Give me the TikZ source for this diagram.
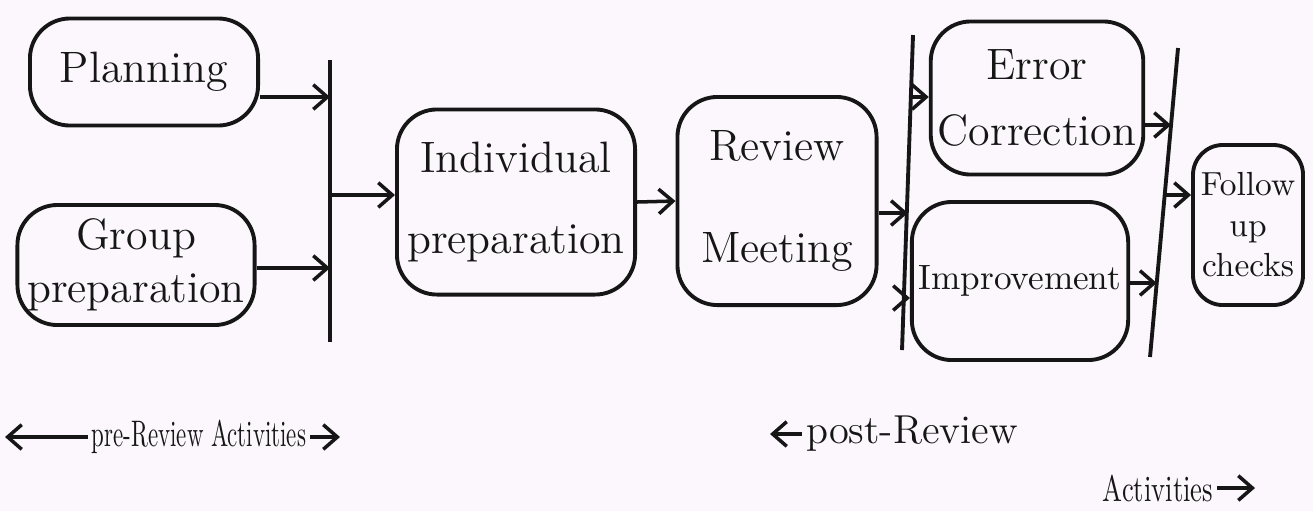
\documentclass[tikz,border=0pt]{standalone}
\usetikzlibrary{arrows.meta}
\definecolor{paper}{RGB}{251,247,252}
\definecolor{ink}{RGB}{22,22,22}
\newcommand\hsq[2]{\scalebox{#1}[1]{#2}}
\begin{document}
\begin{tikzpicture}[x=0.01cm,y=-0.01cm,
  box/.style={draw=ink, line width=1.1pt, rounded corners=0.4cm, align=center,
              inner sep=2pt, text=ink, font=\fontsize{12.5}{15}\selectfont},
  flow/.style={draw=ink, line width=1pt, -{Straight Barb[length=4pt,width=7pt]}},
  bar/.style={draw=ink, line width=1.1pt},
  note/.style={text=ink, inner sep=1pt, font=\fontsize{10.5}{13}\selectfont}]
\fill[paper] (0,0) rectangle (1313,511);
\useasboundingbox (0,0) rectangle (1313,511);

% activity boxes
\node[box, minimum width=2.28cm, minimum height=1.07cm] (plan)   at (144,72)   {Planning};
\node[box, minimum width=2.37cm, minimum height=1.20cm] (group)  at (136,265)  {Group\\[0pt]preparation};
\node[box, minimum width=2.38cm, minimum height=1.85cm] (indiv)  at (516,202)  {Individual\\[8pt]preparation};
\node[box, minimum width=1.99cm, minimum height=2.08cm] (meet)   at (777,201)  {Review\\[14pt]Meeting};
\node[box, minimum width=1.77cm, minimum height=1.53cm] (err)    at (1037,98)  {Error\\[4pt]Correction};
\node[box, minimum width=1.80cm, minimum height=1.58cm, font=\fontsize{10}{12}\selectfont] (impr) at (1020,281) {Improvement};
\node[box, minimum width=1.10cm, minimum height=1.60cm, rounded corners=0.3cm,
      font=\fontsize{9.5}{11.5}\selectfont] (follow) at (1248,225) {Follow\\up\\checks};

% gathering bars
\coordinate (b1t) at (330,60);   \coordinate (b1b) at (330,342);
\coordinate (b2t) at (913,35);   \coordinate (b2b) at (902,350);
\coordinate (b3t) at (1178,48);  \coordinate (b3b) at (1150,357);
\draw[bar] (b1t) -- (b1b);
\draw[bar] (b2t) -- (b2b);
\draw[bar] (b3t) -- (b3b);

% points where the flows meet the bars
\coordinate (b1a) at (330,97);
\coordinate (b1c) at (330,268);
\coordinate (b1o) at (330,195);
\coordinate (b2a) at (907.8,213);
\coordinate (b2e) at (910.8,97);
\coordinate (b2i) at (903.8,298);
\coordinate (b3e) at (1171,125);
\coordinate (b3i) at (1156.7,283);
\coordinate (b3o) at (1164.7,195);

% flows
\draw[flow] (plan.east |- b1a) -- (b1a);
\draw[flow] (group.east |- b1c) -- (b1c);
\draw[flow] (b1o) -- (indiv.west |- b1o);
\draw[flow] (indiv.east) -- (meet.west);
\draw[flow] (meet.east |- b2a) -- (b2a);
\draw[flow] (b2e) -- (err.west |- b2e);
\draw[flow] (b2i) -- (impr.west |- b2i);
\draw[flow] (err.east |- b3e) -- (b3e);
\draw[flow] (impr.east |- b3i) -- (b3i);
\draw[flow] (b3o) -- (follow.west |- b3o);

% phase captions
\node[note] (pre) at (199,437) {\hsq{0.62}{pre-Review Activities}};
\coordinate (preL) at (5,440);
\coordinate (preR) at (340,437);
\draw[flow] (pre.west) -- (preL |- pre.west);
\draw[flow] (pre.east) -- (preR |- pre.east);

\node[note, font=\fontsize{11.5}{14}\selectfont] (post) at (912,434) {post-Review};
\coordinate (postL) at (770,437);
\draw[flow] (post.west) -- (postL |- post.west);

\node[note] (postact) at (1158,488) {\hsq{0.72}{Activities}};
\coordinate (postR) at (1255,488);
\draw[flow] (postact.east) -- (postR |- postact.east);
\end{tikzpicture}
\end{document}
